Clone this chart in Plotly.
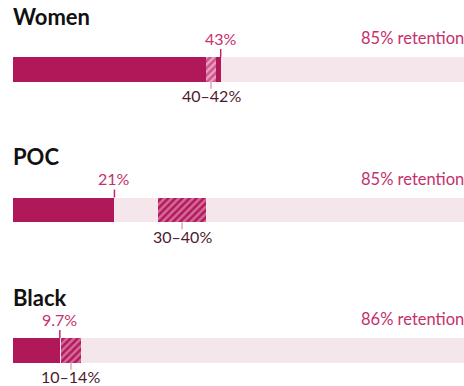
import plotly.graph_objects as go

# Representation by group: current share, target range and retention
groups = ["Women", "POC", "Black"]
current_share = [43, 21, 9.7]
current_labels = ["43%", "21%", "9.7%"]
target_low = [40, 30, 10]
target_high = [42, 40, 14]
target_labels = ["40\u201342%", "30\u201340%", "10\u201314%"]
retention = [85, 85, 86]
retention_labels = ["85% retention", "85% retention", "86% retention"]

DARK = "#B0185A"
BAND = "#F5E6EC"
TOP_TEXT = "#C4316C"
BOTTOM_TEXT = "#4E1A30"
TOP_TICK = "#C0276A"
BOTTOM_TICK = "#E3A3BE"
FONT = "Lato"

# hatch colours: the Women range sits on top of the dark bar, so it is lighter
HATCH_BG = ["#E6A2BF", "#D66A9A", "#D66A9A"]
HATCH_FG = ["#CE548A", "#B01A5A", "#B01A5A"]

rows = list(range(len(groups)))
bar_w = 0.176

fig = go.Figure()

# full-width pale band behind each group
fig.add_trace(go.Bar(
    y=rows, x=[100] * len(rows), base=[0] * len(rows), orientation="h",
    width=bar_w, marker=dict(color=BAND, line=dict(width=0)),
    hoverinfo="skip", showlegend=False,
))

# current share
fig.add_trace(go.Bar(
    y=rows, x=current_share, base=[0] * len(rows), orientation="h",
    width=bar_w, marker=dict(color=DARK, line=dict(width=0)),
    hoverinfo="skip", showlegend=False,
))

# hatched target range, one trace per group
for i in rows:
    fig.add_trace(go.Bar(
        y=[i], x=[target_high[i] - target_low[i]], base=[target_low[i]],
        orientation="h", width=bar_w,
        marker=dict(
            color=HATCH_BG[i], line=dict(width=0),
            pattern=dict(shape="/", size=5, solidity=0.5,
                         fgcolor=HATCH_FG[i], bgcolor=HATCH_BG[i],
                         fgopacity=1, fillmode="replace"),
        ),
        hoverinfo="skip", showlegend=False,
    ))

annotations = []
shapes = []
for i in rows:
    # group heading
    annotations.append(dict(
        x=0, y=i, xref="x", yref="y", xanchor="left", yanchor="middle",
        xshift=-2, yshift=53, text=f"<b>{groups[i]}</b>", showarrow=False,
        font=dict(family=FONT, size=22, color="#111111"),
    ))
    # current share label above the bar
    annotations.append(dict(
        x=current_share[i], y=i, xref="x", yref="y", xanchor="center",
        yanchor="middle", yshift=31, text=current_labels[i], showarrow=False,
        font=dict(family=FONT, size=16, color=TOP_TEXT),
    ))
    # target range label below the bar
    annotations.append(dict(
        x=(target_low[i] + target_high[i]) / 2, y=i, xref="x", yref="y",
        xanchor="center", yanchor="middle", yshift=-26.5,
        text=target_labels[i], showarrow=False,
        font=dict(family=FONT, size=16, color=BOTTOM_TEXT),
    ))
    # retention note at the right, running off the edge
    annotations.append(dict(
        x=0.768, y=i, xref="paper", yref="y", xanchor="left",
        yanchor="middle", yshift=31, text=retention_labels[i],
        showarrow=False, font=dict(family=FONT, size=16.5, color=TOP_TEXT),
    ))
    # tick from the top of the bar up to the current-share label
    shapes.append(dict(
        type="line", xref="x", yref="y", ysizemode="pixel",
        yanchor=i - bar_w / 2, x0=current_share[i], x1=current_share[i],
        y0=0, y1=8, line=dict(color=TOP_TICK, width=1.5),
    ))
    # tick from the bottom of the bar down to the range label
    mid = (target_low[i] + target_high[i]) / 2
    shapes.append(dict(
        type="line", xref="x", yref="y", ysizemode="pixel",
        yanchor=i + bar_w / 2, x0=mid, x1=mid,
        y0=0, y1=-7, line=dict(color=BOTTOM_TICK, width=1.5),
    ))

fig.update_layout(
    width=464, height=386,
    margin=dict(l=13, r=0, t=0, b=0, pad=0),
    paper_bgcolor="white", plot_bgcolor="white",
    barmode="overlay", bargap=0,
    showlegend=False,
    xaxis=dict(range=[0, 451 / 4.83], visible=False, fixedrange=True),
    yaxis=dict(range=[2.2534, -0.494], visible=False, fixedrange=True),
    annotations=annotations, shapes=shapes,
)

fig.write_html("out.html")
